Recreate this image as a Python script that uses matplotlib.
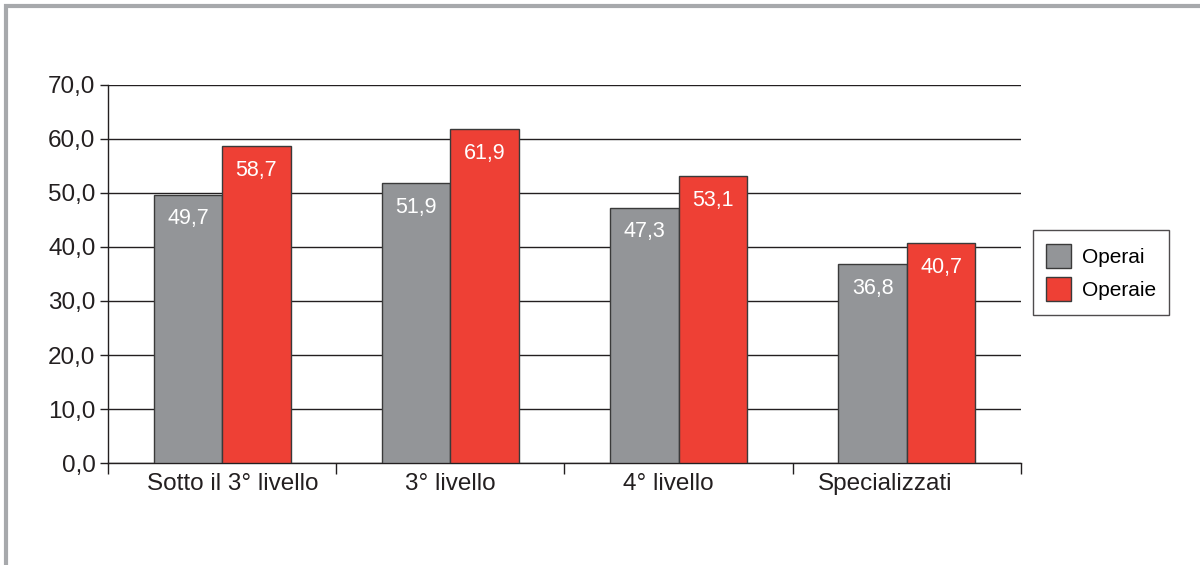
import matplotlib
matplotlib.use("Agg")
import matplotlib.pyplot as plt
from matplotlib.patches import Rectangle
import numpy as np

categories = ["Sotto il 3° livello", "3° livello", "4° livello", "Specializzati"]
operai = [49.7, 51.9, 47.3, 36.8]
operaie = [58.7, 61.9, 53.1, 40.7]
series_names = ["Operai", "Operaie"]
yticks = [0, 10, 20, 30, 40, 50, 60, 70]

plt.rcParams["font.family"] = ["Liberation Sans", "DejaVu Sans"]

GRAY = "#939598"
RED = "#ee4035"
EDGE = "#3a3a3a"
INK = "#231f20"

fig = plt.figure(figsize=(12, 5.65), dpi=100)
ax = fig.add_axes([0.09, 0.1805, 0.7608, 0.6691])

# outer frame (top and left edges visible)
fig.patches.append(Rectangle((0.005, -0.05), 1.2, 1.04, transform=fig.transFigure,
                             fill=False, edgecolor="#a7a9ac", linewidth=3, zorder=0))

x = np.arange(len(categories))
w = 0.3
b1 = ax.bar(x - w / 2, operai, w, color=GRAY, edgecolor=EDGE, linewidth=1, label=series_names[0], zorder=3)
b2 = ax.bar(x + w / 2, operaie, w, color=RED, edgecolor=EDGE, linewidth=1, label=series_names[1], zorder=3)

for bars, vals in ((b1, operai), (b2, operaie)):
    for r, v in zip(bars, vals):
        ax.annotate(f"{v:.1f}".replace(".", ","), (r.get_x() + r.get_width() / 2, v),
                    xytext=(0, -17.5), textcoords="offset points", ha="center", va="center",
                    color="white", fontsize=15.5, zorder=4)

ax.set_xlim(-0.5, len(categories) - 0.5)
ax.set_ylim(0, 70)
ax.set_yticks(yticks)
ax.set_yticklabels([f"{t:.1f}".replace(".", ",") for t in yticks], fontsize=17.5, color=INK)
ax.yaxis.grid(True, color=INK, linewidth=1)
ax.set_axisbelow(True)

# tick marks at group boundaries; category labels spaced slightly tighter than the groups
ax.set_xticks(np.arange(-0.5, len(categories)), minor=False)
ax.set_xticklabels([])
ax.set_xticks(x * 0.953 + 0.047, minor=True)
ax.set_xticklabels(categories, minor=True, fontsize=17.5, color=INK)
ax.tick_params(axis="x", which="major", length=8, width=1, color=INK)
ax.tick_params(axis="x", which="minor", length=0, pad=7)
ax.tick_params(axis="y", length=6, width=1, color=INK, pad=3)

for s in ("top", "right"):
    ax.spines[s].set_visible(False)
for s in ("left", "bottom"):
    ax.spines[s].set_color(INK)
    ax.spines[s].set_linewidth(1)

leg = ax.legend(loc="upper left", bbox_to_anchor=(1.013, 0.616), borderaxespad=0,
                fontsize=15, frameon=True, fancybox=False, edgecolor=INK,
                handlelength=1.2, handleheight=1.4, borderpad=0.65, labelspacing=0.45,
                handletextpad=0.5)
leg.get_frame().set_linewidth(1)

fig.savefig("out.png", dpi=100)
